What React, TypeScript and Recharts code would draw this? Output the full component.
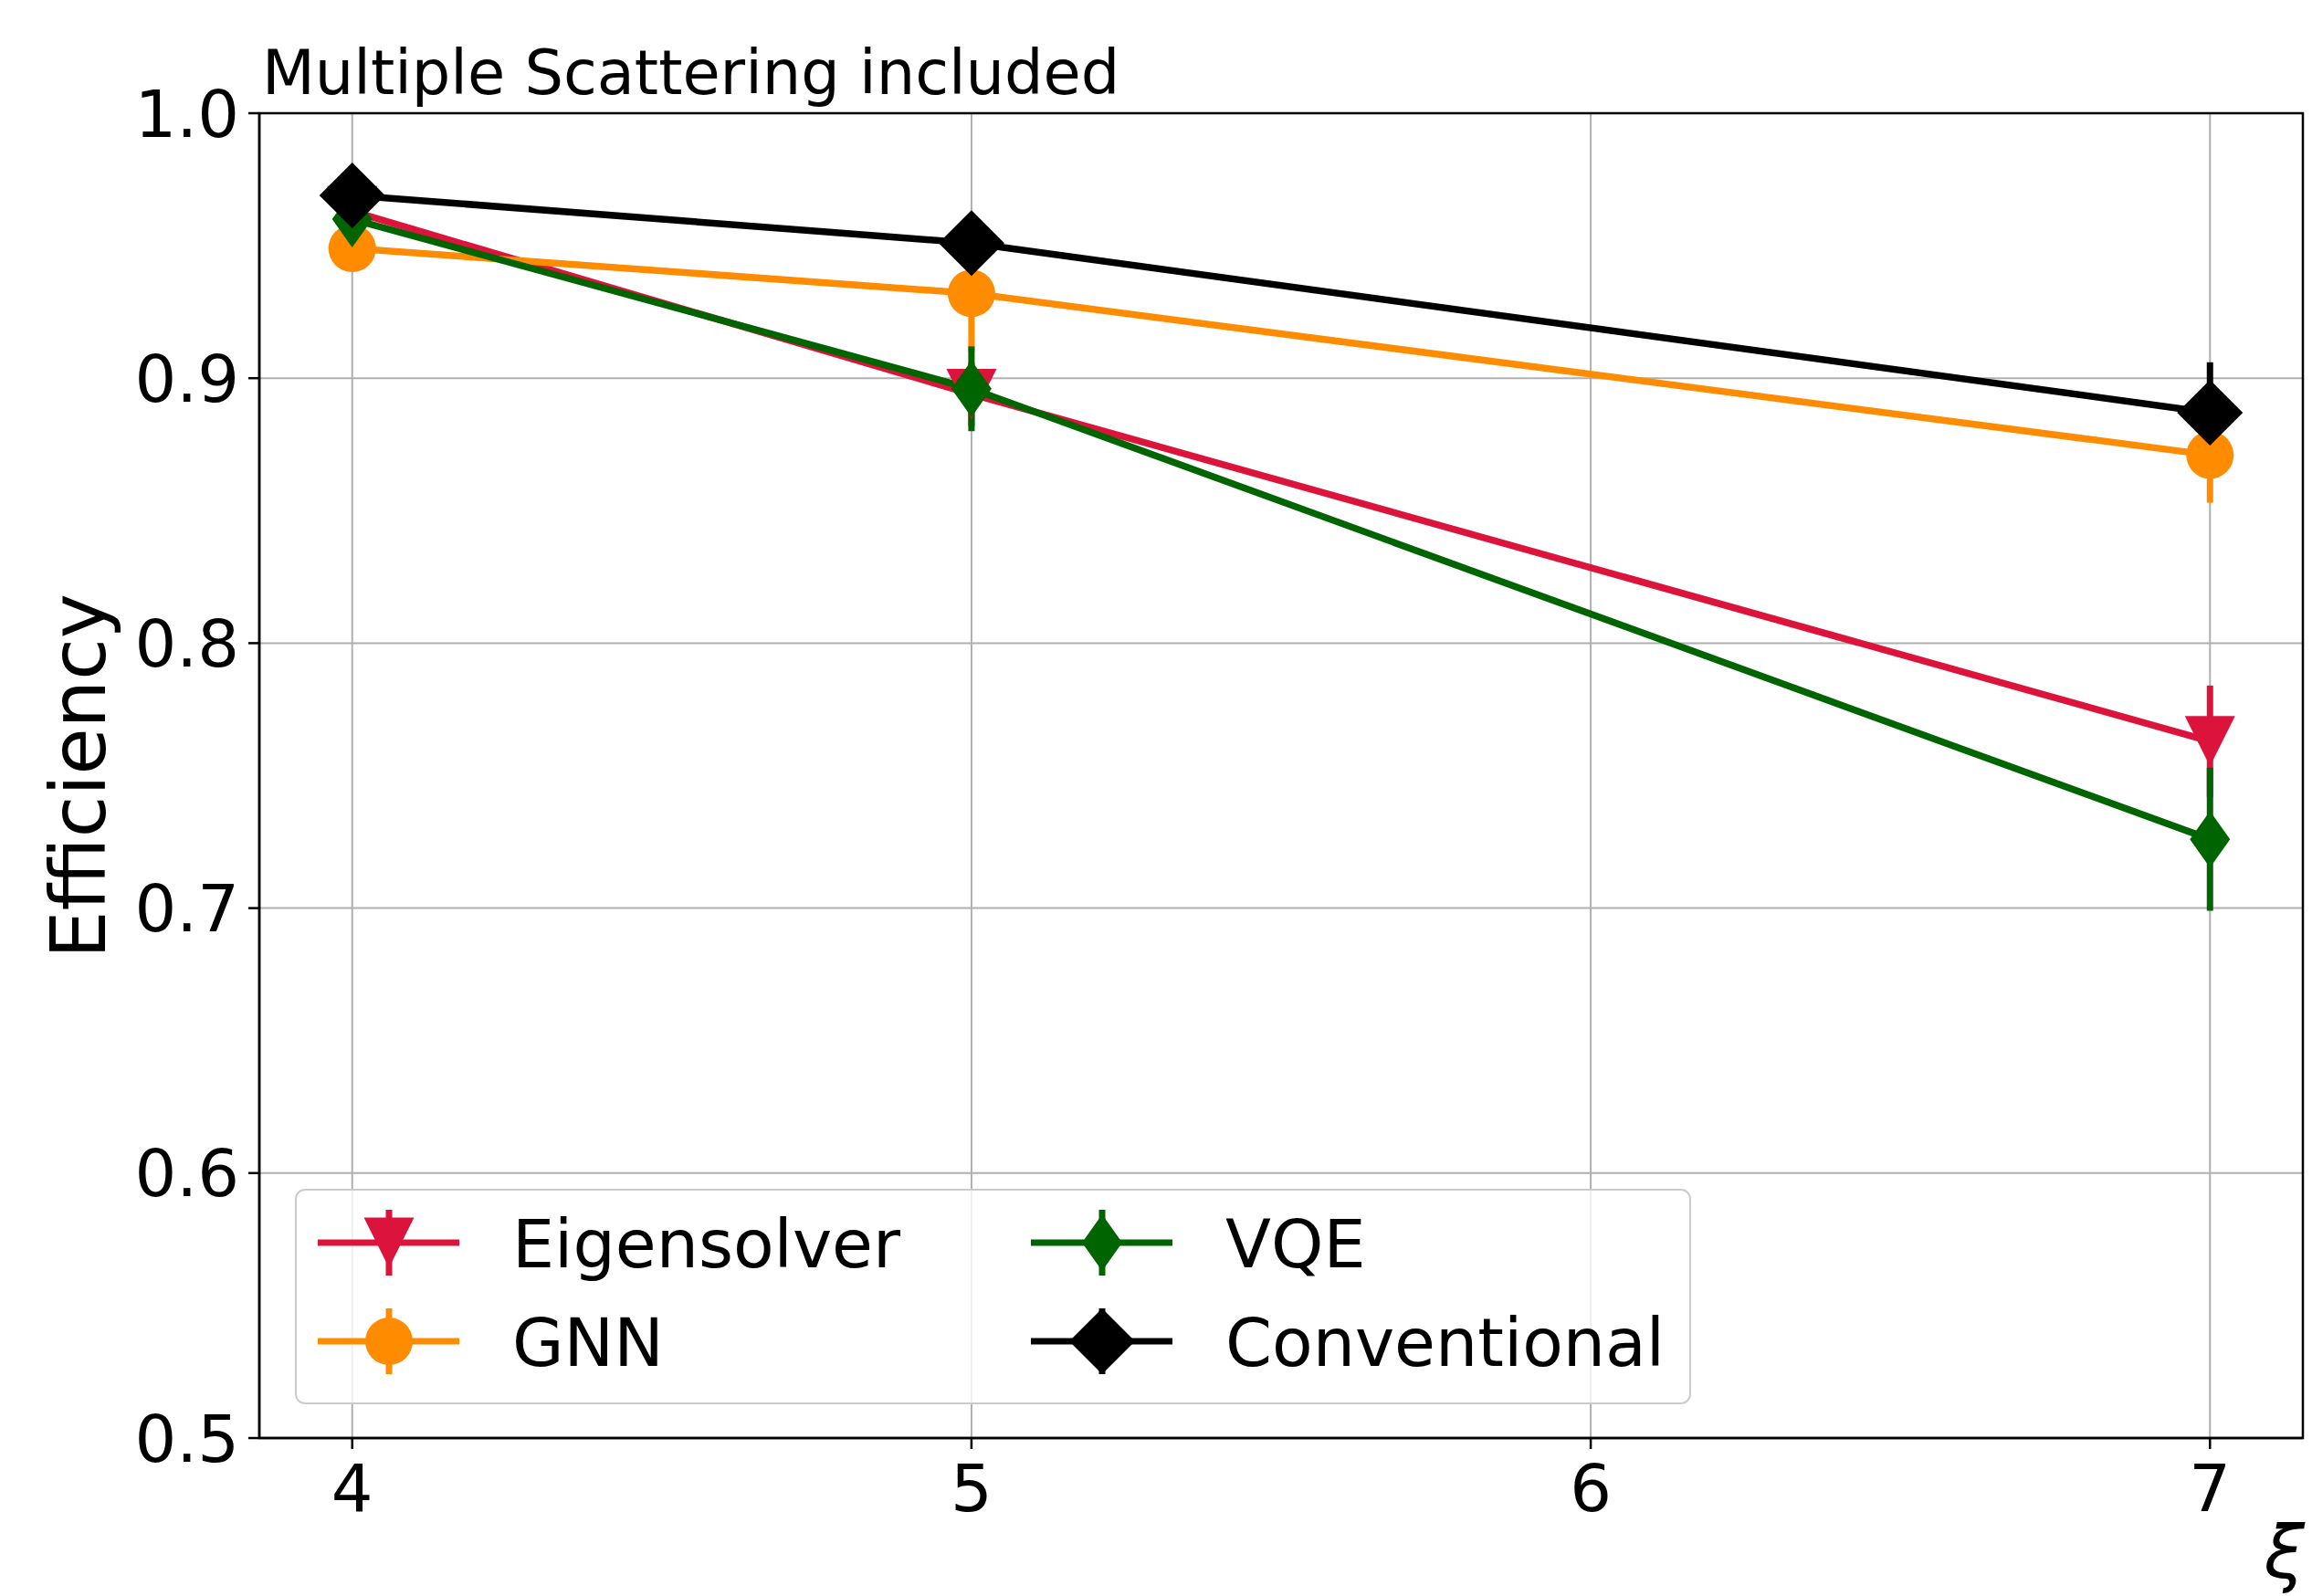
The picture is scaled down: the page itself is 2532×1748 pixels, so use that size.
import { LineChart, Line, XAxis, YAxis, CartesianGrid, ErrorBar, Legend, ReferenceArea } from "recharts";

// xi values where the efficiencies were measured
const xiValues = [4, 5, 7];

const eigensolver = [0.963, 0.894, 0.763];
const eigensolverErr = [0.006, 0.012, 0.021];
const gnn = [0.949, 0.932, 0.871];
const gnnErr = [0.005, 0.022, 0.018];
const vqe = [0.96, 0.896, 0.726];
const vqeErr = [0.006, 0.016, 0.027];
const conventional = [0.969, 0.951, 0.887];
const conventionalErr = [0.004, 0.008, 0.019];

const xTicks = [4, 5, 6, 7];
const yTicks = [0.5, 0.6, 0.7, 0.8, 0.9, 1.0];

const data = xiValues.map((xi, i) => ({
  xi,
  eig: eigensolver[i],
  eigErr: eigensolverErr[i],
  gnn: gnn[i],
  gnnErr: gnnErr[i],
  vqe: vqe[i],
  vqeErr: vqeErr[i],
  conv: conventional[i],
  convErr: conventionalErr[i],
}));

type Shape = "tri" | "circle" | "thin" | "diamond";

const series: { key: string; name: string; color: string; shape: Shape }[] = [
  { key: "eig", name: "Eigensolver", color: "#DC143C", shape: "tri" },
  { key: "gnn", name: "GNN", color: "#FF8C00", shape: "circle" },
  { key: "vqe", name: "VQE", color: "#006400", shape: "thin" },
  { key: "conv", name: "Conventional", color: "#000000", shape: "diamond" },
];

const FONT = "DejaVu Sans";

const marker = (shape: Shape, cx: number, cy: number, color: string, key?: string) => {
  if (shape === "circle") return <circle key={key} cx={cx} cy={cy} r={26} fill={color} />;
  let d = "";
  if (shape === "tri") d = `M${cx - 27.5},${cy - 27.5}L${cx + 27.5},${cy - 27.5}L${cx},${cy + 27.5}Z`;
  if (shape === "thin") d = `M${cx},${cy - 31}L${cx + 22},${cy}L${cx},${cy + 31}L${cx - 22},${cy}Z`;
  if (shape === "diamond") d = `M${cx},${cy - 36}L${cx + 36},${cy}L${cx},${cy + 36}L${cx - 36},${cy}Z`;
  return <path key={key} d={d} fill={color} />;
};

const LegendBox = () => {
  const cols = [0, 0, 1, 1];
  const rows = [0, 1, 0, 1];
  return (
    <svg width={1529} height={236} style={{ display: "block" }}>
      <rect x={1} y={1} width={1527} height={234} rx={10} fill="rgba(255,255,255,0.8)" stroke="#cccccc" strokeWidth={2} />
      {series.map((s, i) => {
        const lx = cols[i] === 0 ? 25 : 806;
        const cy = rows[i] === 0 ? 59 : 167;
        const mx = lx + 78;
        return (
          <g key={s.key}>
            <line x1={lx} x2={lx + 155} y1={cy} y2={cy} stroke={s.color} strokeWidth={7} />
            <line x1={mx} x2={mx} y1={cy - 36} y2={cy + 36} stroke={s.color} strokeWidth={7} />
            {marker(s.shape, mx, cy, s.color)}
            <text x={lx + 213} y={cy + 27} fontSize={73} fontFamily={FONT} fill="#000">
              {s.name}
            </text>
          </g>
        );
      })}
    </svg>
  );
};

export default function App() {
  return (
    <div style={{ position: "absolute", left: 0, top: 0, width: 2532, height: 1748, background: "#fff" }}>
      <LineChart
        width={2532}
        height={1748}
        data={data}
        margin={{ top: 124, right: 10, bottom: 0, left: 0 }}
        style={{ fontFamily: FONT }}
      >
        <CartesianGrid stroke="#b0b0b0" strokeWidth={2} />
        <XAxis
          type="number"
          dataKey="xi"
          domain={[3.85, 7.15]}
          ticks={xTicks}
          allowDataOverflow
          height={173}
          tickSize={12}
          tickMargin={17}
          axisLine={{ stroke: "#000", strokeWidth: 2.5 }}
          tickLine={{ stroke: "#000", strokeWidth: 2.5 }}
          tick={{ fontSize: 72, fill: "#000", fontFamily: FONT }}
        />
        <YAxis
          type="number"
          domain={[0.5, 1.0]}
          ticks={yTicks}
          allowDataOverflow
          width={284}
          tickSize={12}
          tickMargin={10}
          tickFormatter={(v: number) => v.toFixed(1)}
          axisLine={{ stroke: "#000", strokeWidth: 2.5 }}
          tickLine={{ stroke: "#000", strokeWidth: 2.5 }}
          tick={{ fontSize: 72, fill: "#000", fontFamily: FONT }}
        />
        {/* error bars first so every line and marker sits above them */}
        {series.map((s) => (
          <Line
            key={`${s.key}-err`}
            dataKey={s.key}
            stroke="none"
            dot={false}
            activeDot={false}
            legendType="none"
            isAnimationActive={false}
          >
            <ErrorBar dataKey={`${s.key}Err`} width={0} stroke={s.color} strokeWidth={7} direction="y" />
          </Line>
        ))}
        {series.map((s) => (
          <Line
            key={s.key}
            dataKey={s.key}
            name={s.name}
            stroke={s.color}
            strokeWidth={7.5}
            activeDot={false}
            isAnimationActive={false}
            dot={(p: any) => marker(s.shape, p.cx, p.cy, s.color, `${s.key}-${p.index}`)}
          />
        ))}
        <ReferenceArea x1={3.85} x2={7.15} y1={0.5} y2={1.0} fill="none" stroke="#000" strokeWidth={2.5} />
        <Legend
          layout="vertical"
          align="center"
          verticalAlign="middle"
          content={() => <LegendBox />}
          wrapperStyle={{ position: "absolute", left: 323, top: 1302, width: 1529, height: 236 }}
        />
        <text x={287} y={103} fontSize={67} fontFamily={FONT} fill="#000">
          Multiple Scattering included
        </text>
        <text x={115} y={850} transform="rotate(-90, 115, 850)" textAnchor="middle" fontSize={83} fontFamily={FONT} fill="#000">
          Efficiency
        </text>
        <text x={2524} y={1728} textAnchor="end" fontSize={80} fontStyle="italic" fontFamily={FONT} fill="#000">
          ξ
        </text>
      </LineChart>
    </div>
  );
}
